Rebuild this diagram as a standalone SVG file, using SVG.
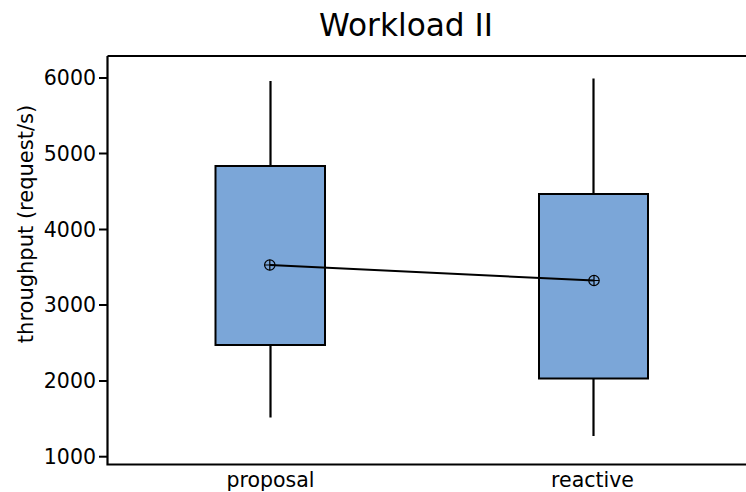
<svg xmlns="http://www.w3.org/2000/svg" width="746" height="492" viewBox="0 0 746 492">
<style>
text{font-family:"DejaVu Sans","Liberation Sans",sans-serif;fill:#000}
.tick{font-size:20.5px;text-anchor:end}
.xt{font-size:20.5px;text-anchor:middle}
.box{fill:#7BA6D8;stroke:#000;stroke-width:2}
.wh{stroke:#000;stroke-width:2.2;fill:none}
.ax{stroke:#000;stroke-width:2.2;fill:none}
.mk{fill:none;stroke:#000;stroke-width:1.2}
</style>
<rect width="746" height="492" fill="#fff"/>
<text x="406" y="36" font-size="31.2" text-anchor="middle">Workload II</text>
<g id="axes">
<path class="ax" d="M107.5,56 H746 M107.5,56 V464.5 H746"/>
<g stroke="#000" stroke-width="2">
<line x1="99" y1="78" x2="107" y2="78"/>
<line x1="99" y1="153.5" x2="107" y2="153.5"/>
<line x1="99" y1="229.5" x2="107" y2="229.5"/>
<line x1="99" y1="305" x2="107" y2="305"/>
<line x1="99" y1="381" x2="107" y2="381"/>
<line x1="99" y1="456.7" x2="107" y2="456.7"/>
</g>
<text class="tick" x="96" y="85.3">6000</text>
<text class="tick" x="96" y="160.8">5000</text>
<text class="tick" x="96" y="236.8">4000</text>
<text class="tick" x="96" y="312.3">3000</text>
<text class="tick" x="96" y="388.3">2000</text>
<text class="tick" x="96" y="464">1000</text>
<text class="xt" x="270.5" y="487">proposal</text>
<text class="xt" x="592.5" y="487">reactive</text>
<text font-size="21" text-anchor="middle" transform="translate(33,224) rotate(-90)">throughput (request/s)</text>
</g>
<g id="proposal">
<line class="wh" x1="270.5" y1="81" x2="270.5" y2="166"/>
<line class="wh" x1="270.5" y1="345" x2="270.5" y2="417.5"/>
<rect class="box" x="215.5" y="166" width="109.5" height="179"/>
</g>
<g id="reactive">
<line class="wh" x1="593.5" y1="78.5" x2="593.5" y2="194"/>
<line class="wh" x1="593.5" y1="378.5" x2="593.5" y2="436"/>
<rect class="box" x="539" y="194" width="109" height="184.5"/>
</g>
<g id="connectors">
<line x1="270" y1="265" x2="594" y2="280.5" stroke="#000" stroke-width="2"/>
</g>
<g id="means">
<g class="mk"><circle cx="269.8" cy="265" r="5.2"/><path d="M264.6,265 H275 M269.8,259.8 V270.2"/></g>
<g class="mk"><circle cx="594" cy="280.5" r="5.2"/><path d="M588.8,280.5 H599.2 M594,275.3 V285.7"/></g>
</g>
</svg>
